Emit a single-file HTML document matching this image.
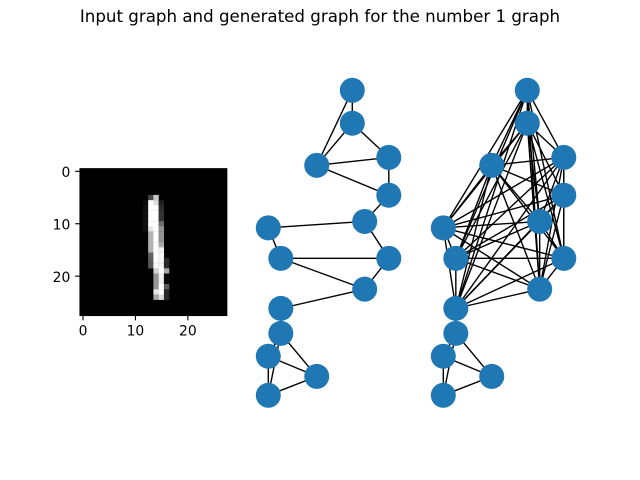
<!DOCTYPE html>
<html>
<head>
<meta charset="utf-8">
<style>
html,body{margin:0;padding:0;background:#fff;width:640px;height:480px;overflow:hidden}
svg{display:block}
text{font-family:"DejaVu Sans","Liberation Sans",sans-serif;fill:#000}
</style>
</head>
<body>
<svg id="figure" width="640" height="480" viewBox="0 0 640 480" xmlns="http://www.w3.org/2000/svg">
  <text x="320" y="22" font-size="16.67" text-anchor="middle">Input graph and generated graph for the number 1 graph</text>
  <g id="digit-axes"></g>
  <g id="input-graph"></g>
  <g id="generated-graph"></g>
</svg>
<script>
// Digit image: 28x28 grid, only the non-black window is listed
const digitSize = 28;
const digitStartRow = 5;
const digitStartCol = 12;
const digitValues = [
  [0, 70, 200, 0, 0],
  [10, 255, 220, 30, 0],
  [15, 255, 255, 45, 0],
  [15, 255, 255, 50, 0],
  [15, 255, 255, 50, 0],
  [15, 255, 255, 110, 0],
  [15, 230, 255, 145, 0],
  [0, 180, 255, 145, 0],
  [0, 180, 255, 145, 0],
  [0, 180, 255, 170, 0],
  [0, 175, 255, 240, 0],
  [0, 100, 255, 245, 0],
  [0, 90, 250, 245, 40],
  [0, 90, 250, 245, 40],
  [0, 0, 210, 255, 165],
  [0, 0, 150, 240, 10],
  [0, 0, 150, 240, 10],
  [0, 0, 150, 255, 90],
  [0, 0, 230, 255, 40],
  [0, 0, 170, 220, 40]
];
const xTickValues = [0, 10, 20];
const yTickValues = [0, 10, 20];

// Graph layout in layout units (x 0-100, y 0-100)
const nodeX = [69.7, 69.7, 40.2, 100, 100, 80, 0, 10.4, 100, 80, 10.4, 10.4, 0, 40.2, 0];
const nodeY = [100, 89.2, 75.4, 78, 65.6, 57, 54.9, 44.9, 44.9, 34.8, 28.5, 20.3, 12.8, 6.2, 0];

const inputEdges = [
  [0,1],[0,2],[1,2],[1,3],[2,3],[2,4],[3,4],[4,5],[5,6],[5,8],[6,7],[7,8],[7,9],[8,9],[9,10],
  [10,11],[11,12],[11,13],[11,14],[12,13],[12,14],[13,14]
];
const generatedEdges = [
  [0,1],[0,2],[0,3],[0,5],[0,6],[0,7],[0,8],[0,9],[0,10],
  [1,2],[1,3],[1,4],[1,5],[1,6],[1,7],[1,8],[1,9],[1,10],
  [2,3],[2,4],[2,5],[2,6],[2,7],[2,8],[2,9],[2,10],
  [3,4],[3,5],[3,6],[3,7],[3,8],[3,9],[3,10],
  [4,5],[4,6],[4,7],[4,8],[4,9],[4,10],
  [5,6],[5,7],[5,8],[5,9],[5,10],
  [6,7],[6,8],[6,9],[6,10],
  [7,8],[7,9],[7,10],
  [8,9],[8,10],
  [9,10],
  [10,11],[11,12],[11,13],[11,14],[12,13],[12,14],[13,14]
];

const NS = 'http://www.w3.org/2000/svg';
function mk(tag, attrs, parent) {
  const el = document.createElementNS(NS, tag);
  for (const k in attrs) el.setAttribute(k, attrs[k]);
  parent.appendChild(el);
  return el;
}

// Image axes functions
const imgLeft = 80, imgTop = 168.7, imgSpan = 146.8;
function imgX(v) { return imgLeft + (v + 0.5) * imgSpan / digitSize; }
function imgY(v) { return imgTop + (v + 0.5) * imgSpan / digitSize; }

// Graph axes functions
function graphX(v, shift) { return 268.3 + shift + v * 1.205; }
function graphY(v) { return 395.3 - v * 3.05; }

const axes = document.getElementById('digit-axes');
const bg = mk('rect', {x: imgLeft, y: imgTop, width: imgSpan, height: imgSpan, fill: '#000'}, axes);



digitValues.forEach(function (row, r) {
  row.forEach(function (val, c) {
    if (!val) return;
    const col = digitStartCol + c;
    const rowIdx = digitStartRow + r;
    const cell = mk('rect', {
      x: imgX(col - 0.5),
      y: imgY(rowIdx - 0.5),
      width: imgSpan / digitSize + 0.15,
      height: imgSpan / digitSize + 0.15,
      fill: 'rgb(' + val + ',' + val + ',' + val + ')'
    }, axes);
    
    
  });
});

const frame = mk('rect', {x: imgLeft, y: imgTop, width: imgSpan, height: imgSpan, fill: 'none', stroke: '#000', 'stroke-width': 1.11}, axes);



const axisBottom = imgTop + imgSpan;
xTickValues.forEach(function (t) {
  const x = imgX(t) + 0.4;
  const tick = mk('line', {x1: x, x2: x, y1: axisBottom, y2: axisBottom + 4.86, stroke: '#000', 'stroke-width': 1.11}, axes);
  
  
  const label = mk('text', {x: x, y: axisBottom + 20.2, 'font-size': 13.89, 'text-anchor': 'middle'}, axes);
  
  
  label.textContent = t;
});
yTickValues.forEach(function (t) {
  const y = imgY(t);
  const tick = mk('line', {x1: imgLeft - 4.86, x2: imgLeft, y1: y, y2: y, stroke: '#000', 'stroke-width': 1.11}, axes);
  
  
  const label = mk('text', {x: imgLeft - 9.7, y: y + 5.7, 'font-size': 13.89, 'text-anchor': 'end'}, axes);
  
  
  label.textContent = t;
});

function drawGraph(groupId, edges, shift) {
  const g = document.getElementById(groupId);
  edges.forEach(function (e) {
    const line = mk('line', {
      x1: graphX(nodeX[e[0]], shift), y1: graphY(nodeY[e[0]]),
      x2: graphX(nodeX[e[1]], shift), y2: graphY(nodeY[e[1]]),
      stroke: '#000', 'stroke-width': 1.39
    }, g);
    
    
  });
  nodeX.forEach(function (v, i) {
    const node = mk('circle', {cx: graphX(v, shift), cy: graphY(nodeY[i]), r: 12.5, fill: '#1f77b4'}, g);
    
    
  });
}
drawGraph('input-graph', inputEdges, 0);
drawGraph('generated-graph', generatedEdges, 175);
</script>
</body>
</html>
